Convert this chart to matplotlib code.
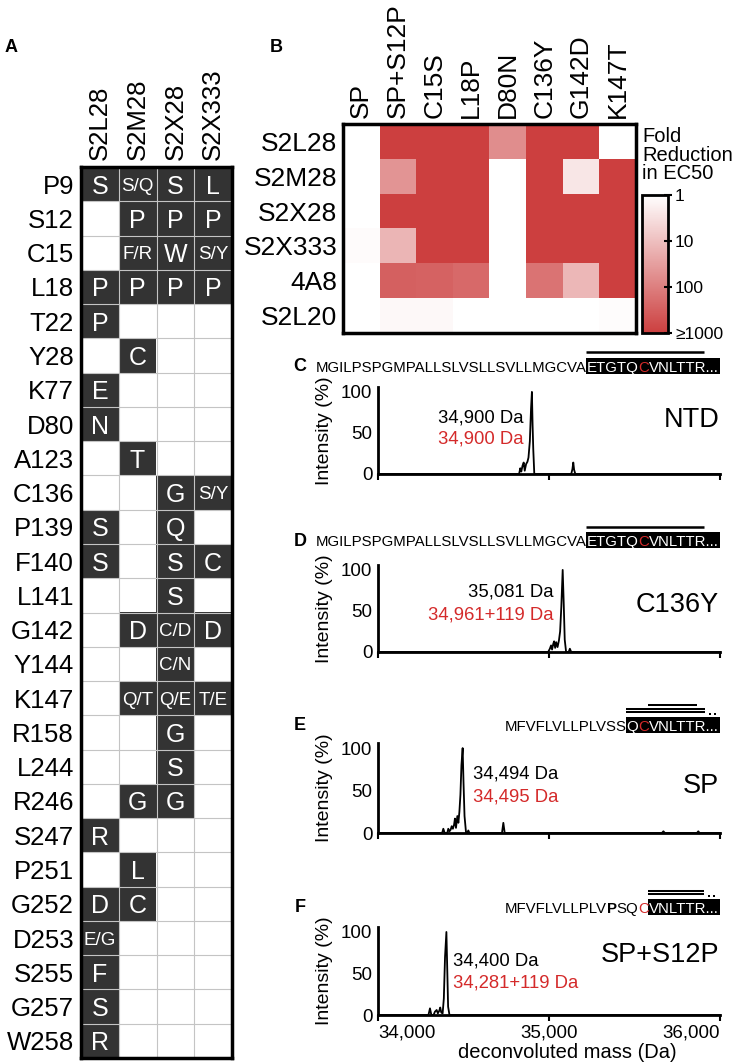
import numpy as np
import matplotlib
matplotlib.use('Agg')
import matplotlib.pyplot as plt
from matplotlib.colors import LogNorm, LinearSegmentedColormap, ListedColormap
from matplotlib.patches import Rectangle
from matplotlib.lines import Line2D

plt.rcParams['font.family'] = ['Liberation Sans', 'DejaVu Sans']

# ---------------- Panel A data ----------------
a_positions = ['P9', 'S12', 'C15', 'L18', 'T22', 'Y28', 'K77', 'D80', 'A123', 'C136', 'P139',
               'F140', 'L141', 'G142', 'Y144', 'K147', 'R158', 'L244', 'R246', 'S247', 'P251',
               'G252', 'D253', 'S255', 'G257', 'W258']
a_antibodies = ['S2L28', 'S2M28', 'S2X28', 'S2X333']
a_S2L28 = ['S', '', '', 'P', 'P', '', 'E', 'N', '', '', 'S', 'S', '', '', '', '', '', '', '', 'R',
           '', 'D', 'E/G', 'F', 'S', 'R']
a_S2M28 = ['S/Q', 'P', 'F/R', 'P', '', 'C', '', '', 'T', '', '', '', '', 'D', '', 'Q/T', '', '', 'G',
           '', 'L', 'C', '', '', '', '']
a_S2X28 = ['S', 'P', 'W', 'P', '', '', '', '', '', 'G', 'Q', 'S', 'S', 'C/D', 'C/N', 'Q/E', 'G', 'S',
           'G', '', '', '', '', '', '', '']
a_S2X333 = ['L', 'P', 'S/Y', 'P', '', '', '', '', '', 'S/Y', '', 'C', '', 'D', '', 'T/E', '', '', '',
            '', '', '', '', '', '', '']

# ---------------- Panel B data ----------------
b_antibodies = ['S2L28', 'S2M28', 'S2X28', 'S2X333', '4A8', 'S2L20']
b_variants = ['SP', 'SP+S12P', 'C15S', 'L18P', 'D80N', 'C136Y', 'G142D', 'K147T']
fold_S2L28 = [1, 1000, 1000, 1000, 60, 1000, 1000, 1]
fold_S2M28 = [1, 45, 1000, 1000, 1, 1000, 2.5, 1000]
fold_S2X28 = [1, 1000, 1000, 1000, 1, 1000, 1000, 1000]
fold_S2X333 = [1.15, 14, 1000, 1000, 1, 1000, 1000, 1000]
fold_4A8 = [1, 300, 280, 220, 1, 150, 13, 1000]
fold_S2L20 = [1, 1.3, 1.3, 1, 1, 1, 1, 1.1]
cbar_ticks = [1, 10, 100, 1000]
cbar_labels = ['1', '10', '100', '\u22651000']

# ---------------- Mass spectra data ----------------
mass_ntd = [34000, 34825, 34832, 34838, 34845, 34852, 34858, 34866, 34874, 34880, 34888, 34895,
            34900, 34904, 34908, 34914, 35130, 35137, 35142, 35147, 35154, 36000]
int_ntd = [0, 0, 7, 3, 10, 14, 4, 12, 15, 20, 40, 80, 100, 60, 30, 0, 0, 6, 14, 5, 0, 0]

mass_c136y = [34000, 34995, 35005, 35012, 35018, 35025, 35030, 35036, 35042, 35050, 35058, 35065,
              35072, 35080, 35086, 35092, 35100, 35115, 35122, 35130, 36000]
int_c136y = [0, 0, 4, 8, 3, 10, 13, 5, 12, 6, 14, 25, 55, 100, 60, 15, 0, 0, 4, 0, 0]

mass_sp = [34000, 34375, 34382, 34390, 34405, 34411, 34418, 34425, 34431, 34438, 34445, 34450,
           34456, 34464, 34470, 34476, 34482, 34488, 34495, 34500, 34506, 34515, 34522, 34528,
           34535, 34725, 34733, 34741, 35660, 35669, 35678, 35865, 35873, 35881, 36000]
int_sp = [0, 0, 5, 0, 0, 5, 2, 4, 8, 5, 10, 17, 6, 20, 12, 25, 45, 80, 100, 60, 20, 0, 0, 3,
          0, 0, 12, 0, 0, 2, 0, 0, 2, 0, 0]

mass_s12p = [34000, 34295, 34304, 34312, 34325, 34333, 34343, 34350, 34358, 34364, 34370, 34378,
             34385, 34392, 34400, 34405, 34410, 34418, 36000]
int_s12p = [0, 0, 8, 0, 0, 4, 6, 2, 5, 9, 3, 2, 20, 70, 100, 55, 10, 0, 0]

x_ticks = [34000, 35000, 36000]
x_ticklabels = ['34,000', '35,000', '36,000']

# ---------------- helpers ----------------
W, H = 733, 1062
fig = plt.figure(figsize=(W / 100, H / 100), dpi=100)


def rect(x0, y0, x1, y1):
    return [x0 / W, 1 - y1 / H, (x1 - x0) / W, (y1 - y0) / H]


def fx(x):
    return x / W


def fy(y):
    return 1 - y / H


# ---------------- Panel A ----------------
axA = fig.add_axes(rect(81, 167, 232, 1058))
cols = [a_S2L28, a_S2M28, a_S2X28, a_S2X333]
nrow = len(a_positions)
mask = np.array([[1 if c[i] else 0 for c in cols] for i in range(nrow)])
axA.imshow(mask, cmap=ListedColormap(['white', '#333333']), vmin=0, vmax=1,
           aspect='auto', interpolation='nearest')
for k in range(1, len(cols)):
    axA.axvline(k - 0.5, color='#c4c4c4', lw=0.8)
for k in range(1, nrow):
    axA.axhline(k - 0.5, color='#c4c4c4', lw=0.8)
for i in range(nrow):
    for j, c in enumerate(cols):
        s = c[i]
        if s:
            fs = 18 if len(s) == 1 else 13.5
            axA.text(j, i, s, ha='center', va='center_baseline', color='white', fontsize=fs)
axA.xaxis.tick_top()
axA.set_xticks(range(len(a_antibodies)))
axA.set_xticklabels(a_antibodies, rotation=90, fontsize=18.5)
axA.set_yticks(range(nrow))
axA.set_yticklabels(a_positions, fontsize=18.5)
axA.tick_params(length=0, pad=5)
for sp in axA.spines.values():
    sp.set_linewidth(2.5)
fig.text(fx(11), fy(48), 'A', fontsize=13, fontweight='bold', ha='center', va='center')

# ---------------- Panel B ----------------
cmap = LinearSegmentedColormap.from_list('wr', ['#ffffff', '#cc3f3f'])
norm = LogNorm(vmin=1, vmax=1000)
fold = np.array([fold_S2L28, fold_S2M28, fold_S2X28, fold_S2X333, fold_4A8, fold_S2L20])
axB = fig.add_axes(rect(343, 124, 636, 333))
im = axB.imshow(np.clip(fold, 1, 1000), cmap=cmap, norm=norm, aspect='auto', interpolation='nearest')
axB.xaxis.tick_top()
axB.set_xticks(range(len(b_variants)))
axB.set_xticklabels(b_variants, rotation=90, fontsize=19)
axB.set_yticks(range(len(b_antibodies)))
axB.set_yticklabels(b_antibodies, fontsize=19)
axB.tick_params(length=0, pad=4)
for sp in axB.spines.values():
    sp.set_linewidth(2.5)
fig.text(fx(276), fy(48), 'B', fontsize=13, fontweight='bold', ha='center', va='center')

cax = fig.add_axes(rect(642, 195, 668, 333))
cb = fig.colorbar(im, cax=cax)
cb.minorticks_off()
cb.set_ticks(cbar_ticks)
cb.set_ticklabels(cbar_labels)
cax.invert_yaxis()
cb.outline.set_linewidth(2)
cax.tick_params(direction='inout', length=6, width=1.5, labelsize=12.5, pad=2)
fig.text(fx(642), fy(127), 'Fold\nReduction\nin EC50', fontsize=14.5, ha='left', va='top',
         linespacing=0.98)

# ---------------- Spectra ----------------
spectra = [
    ('C', (378, 387, 720, 474), mass_ntd, int_ntd),
    ('D', (378, 565, 720, 652), mass_c136y, int_c136y),
    ('E', (378, 743, 720, 833), mass_sp, int_sp),
    ('F', (378, 927, 720, 1015), mass_s12p, int_s12p),
]
for idx, (lab, r, m, it) in enumerate(spectra):
    ax = fig.add_axes(rect(*r))
    ax.plot(m, it, color='black', lw=1.3, clip_on=False)
    ax.set_xlim(34000, 36000)
    ax.set_ylim(0, 106)
    ax.spines['top'].set_visible(False)
    ax.spines['right'].set_visible(False)
    ax.spines['left'].set_linewidth(2)
    ax.spines['bottom'].set_linewidth(2)
    ax.set_yticks([0, 50, 100])
    ax.tick_params(axis='y', length=0, labelsize=13.5, pad=4)
    ax.set_xticks(x_ticks)
    ax.tick_params(axis='x', length=4, width=1.5, labelsize=13.5, pad=3)
    if idx == len(spectra) - 1:
        ax.set_xticklabels(x_ticklabels)
        tl = ax.get_xticklabels()
        tl[0].set_ha('left')
        tl[-1].set_ha('right')
        ax.set_xlabel('deconvoluted mass (Da)', fontsize=14.5)
        ax.xaxis.set_label_coords((567 - 378) / (720 - 378), -(1052 - 1015) / (1015 - 927))
        ax.xaxis.label.set_va('center')
    else:
        ax.set_xticklabels([])
    ax.set_ylabel('Intensity (%)', fontsize=14)
    ax.yaxis.set_label_coords((333 - 378) / (720 - 378), 0.5)

# annotations (figure pixel positions)
RED = '#d42a2a'
fig.text(fx(523), fy(418), '34,900 Da', fontsize=13.3, ha='right', va='center')
fig.text(fx(523), fy(439), '34,900 Da', fontsize=13.3, ha='right', va='center', color=RED)
fig.text(fx(719), fy(420), 'NTD', fontsize=19.5, ha='right', va='center')

fig.text(fx(553), fy(592), '35,081 Da', fontsize=13.3, ha='right', va='center')
fig.text(fx(553), fy(615), '34,961+119 Da', fontsize=13.3, ha='right', va='center', color=RED)
fig.text(fx(719), fy(605), 'C136Y', fontsize=19.5, ha='right', va='center')

fig.text(fx(473), fy(774), '34,494 Da', fontsize=13.3, ha='left', va='center')
fig.text(fx(473), fy(797), '34,495 Da', fontsize=13.3, ha='left', va='center', color=RED)
fig.text(fx(719), fy(786), 'SP', fontsize=19.5, ha='right', va='center')

fig.text(fx(453), fy(961), '34,400 Da', fontsize=13.3, ha='left', va='center')
fig.text(fx(453), fy(983), '34,281+119 Da', fontsize=13.3, ha='left', va='center', color=RED)
fig.text(fx(719), fy(955), 'SP+S12P', fontsize=19.5, ha='right', va='center')

# ---------------- sequences ----------------
renderer = fig.canvas.get_renderer()


def text_w(s, fs, weight='normal'):
    t = fig.text(0, 0, s, fontsize=fs, fontweight=weight)
    w = t.get_window_extent(renderer).width
    t.remove()
    return w


base_fs = 10
target = 719 - 504
seq_fs = base_fs * target / text_w('MFVFLVLLPLVSSQCVNLTTR...', base_fs)

# segments: (text, color, weight, boxed)
seq_C = [('MGILPSPGMPALLSLVSLLSVLLMGCVA', 'black', 'normal', False),
         ('ETGTQ', 'white', 'normal', True), ('C', RED, 'normal', True),
         ('VNLTTR...', 'white', 'normal', True)]
seq_E = [('MFVFLVLLPLVSS', 'black', 'normal', False),
         ('Q', 'white', 'normal', True), ('C', RED, 'normal', True),
         ('VNLTTR...', 'white', 'normal', True)]
seq_F = [('MFVFLVLLPLV', 'black', 'normal', False), ('P', 'black', 'bold', False),
         ('SQ', 'black', 'normal', False), ('C', RED, 'normal', False),
         ('VNLTTR...', 'white', 'normal', True)]

cap_h = seq_fs * 100 / 72 * 0.716


def draw_seq(segs, baseline, right=719):
    widths = [text_w(s, seq_fs, wgt) for s, c, wgt, b in segs]
    total = sum(widths)
    x = right - total
    box_x0 = None
    for (s, c, wgt, b), w in zip(segs, widths):
        if b and box_x0 is None:
            box_x0 = x
        fig.text(fx(x), fy(baseline), s, fontsize=seq_fs, fontweight=wgt, color=c,
                 ha='left', va='baseline', zorder=5)
        x += w
    bx0, bx1 = box_x0 - 1, right + 1
    by0, by1 = baseline - cap_h - 3, baseline + 2
    fig.patches.append(Rectangle((fx(bx0), fy(by1)), (bx1 - bx0) / W, (by1 - by0) / H,
                                 transform=fig.transFigure, facecolor='black', edgecolor='none',
                                 zorder=1))
    return bx0, by0


def hline(x0, x1, y, lw=1.45):
    fig.add_artist(Line2D([fx(x0), fx(x1)], [fy(y), fy(y)], transform=fig.transFigure,
                          color='black', lw=lw, solid_capstyle='butt'))


def dots(xs, y):
    fig.add_artist(Line2D([fx(v) for v in xs], [fy(y)] * len(xs), transform=fig.transFigure,
                          color='black', ls='none', marker='s', markersize=1.5,
                          markeredgewidth=0))


# C
bx, bt = draw_seq(seq_C, 372)
hline(bx, 704, bt - 6, lw=1.8)
# D
bx, bt = draw_seq(seq_C, 546)
hline(bx, 704, bt - 5, lw=1.8)
# E
bx, bt = draw_seq(seq_E, 731)
hline(bx + 22, 697, bt - 12)
hline(bx, 705, bt - 8)
hline(bx, 705, bt - 5)
dots([710, 715], bt - 3)
# F
bx, bt = draw_seq(seq_F, 913)
hline(bx, 704, bt - 8)
hline(bx, 704, bt - 5)
dots([709, 714], bt - 3)

for lab, y in [('C', 367), ('D', 541), ('E', 726), ('F', 908)]:
    fig.text(fx(300), fy(y), lab, fontsize=13, fontweight='bold', ha='center', va='center')

fig.savefig('out.png', dpi=100)
